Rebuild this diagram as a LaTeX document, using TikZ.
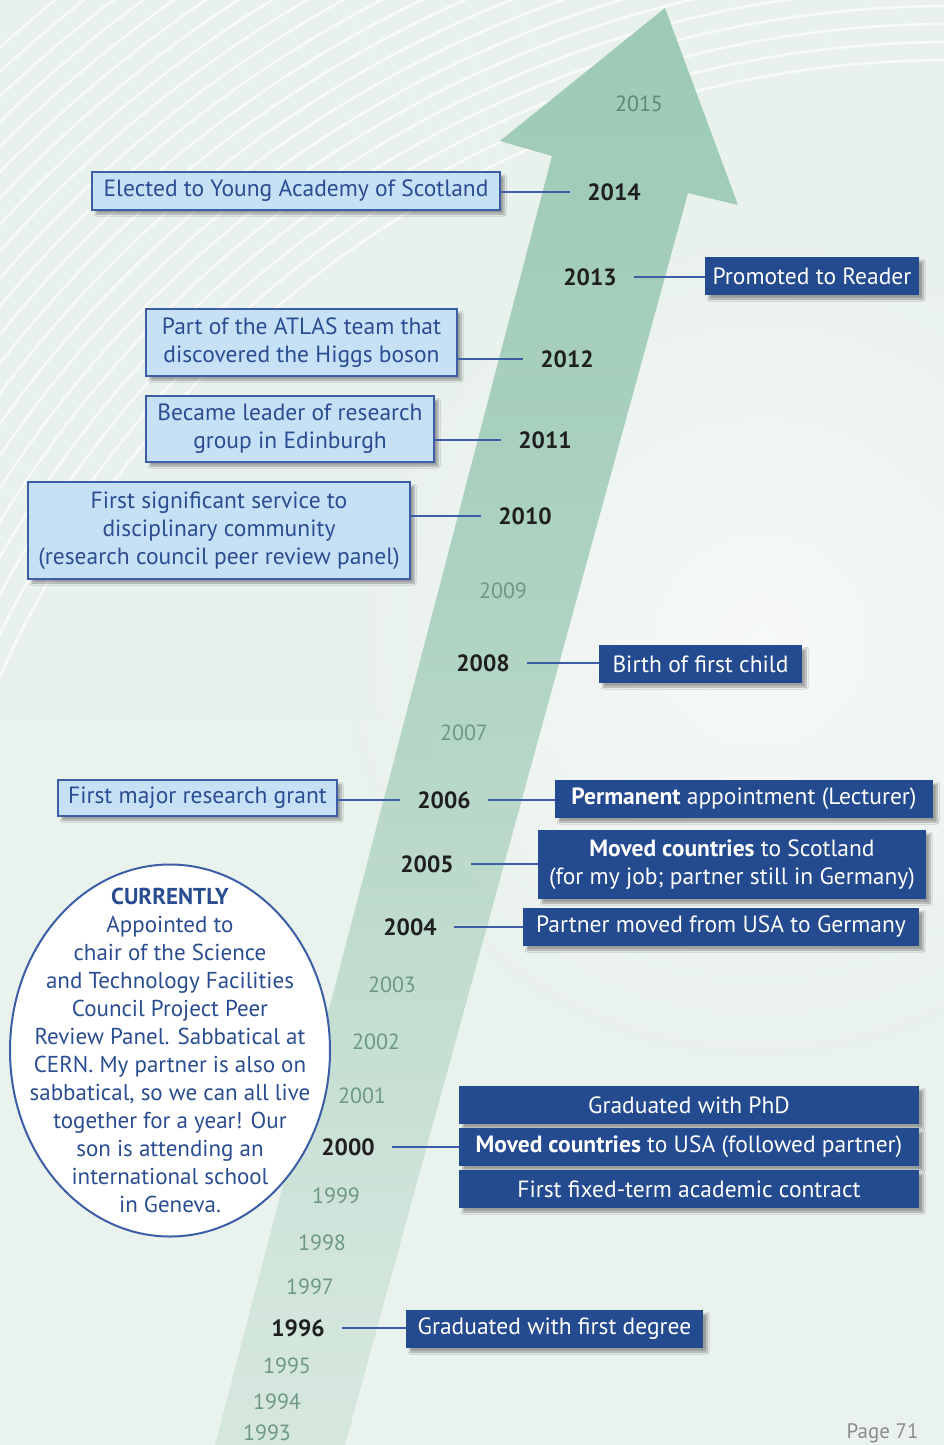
\documentclass[tikz,border=0pt]{standalone}
\usepackage{fontspec}
\setmainfont{PT Sans}
\usetikzlibrary{shapes.geometric,shadows.blur}

\definecolor{boxblue}{RGB}{36,74,143}
\definecolor{paleblue}{RGB}{198,225,246}
\definecolor{edgeblue}{RGB}{59,94,166}
\definecolor{inkblue}{RGB}{42,77,145}
\definecolor{arrowgreen}{RGB}{146,197,174}
\definecolor{shaftgreen}{RGB}{166,207,188}
\definecolor{midgreen}{RGB}{208,228,218}
\definecolor{fadegreen}{RGB}{225,237,231}
\definecolor{yeargrey}{RGB}{110,152,134}
\definecolor{yeardark}{RGB}{92,138,118}
\definecolor{bgtop}{RGB}{233,241,237}
\definecolor{bgbottom}{RGB}{234,242,237}

\pgfdeclareverticalshading{arrowfade}{100bp}{color(0bp)=(fadegreen); color(31bp)=(midgreen);
  color(55bp)=(shaftgreen); color(78bp)=(arrowgreen); color(100bp)=(arrowgreen)}

\tikzset{
  txt/.style={font=\fontsize{23.5}{28}\selectfont},
  boxshadow/.style={blur shadow={shadow xshift=4pt, shadow yshift=-4pt, shadow opacity=35, shadow blur steps=6}},
  lbox/.style={txt, draw=edgeblue, line width=1.2pt, fill=paleblue, text=inkblue,
    align=center, inner sep=0pt, boxshadow},
  dbox/.style={txt, fill=boxblue, text=white, align=center, inner sep=0pt, boxshadow},
  yr/.style={font=\fontsize{23.5}{25}\selectfont\bfseries, text=black!88, inner xsep=17pt},
  yrfaint/.style={font=\fontsize{22}{25}\selectfont, text=yeargrey},
  link/.style={draw=edgeblue, line width=1.2pt},
}

\begin{document}
\begin{tikzpicture}[x=1pt,y=-1pt]
  \useasboundingbox (0,0) rectangle (944,1445);
  % backdrop with a soft light patch on the right
  \shade[top color=bgtop, bottom color=bgbottom] (0,0) rectangle (944,1445);
  \begin{scope}
    \clip (0,0) rectangle (944,1445);
    \shade[inner color=white, outer color=bgtop, opacity=0.6] (760,640) circle[radius=420];
  \end{scope}

  % swirl lines
  \begin{scope}
    \clip (0,0) rectangle (944,1445);
    \foreach \r in {1040,1058,...,1420}
      \draw[white, opacity=0.7, line width=2.5pt] (950,1100) circle[radius=\r];
  \end{scope}

  % rising arrow
  \shade[shading=arrowfade, opacity=0.9]
    (665,8) -- (738,205) -- (688,193) -- (345,1445) -- (215,1445) -- (552,156) -- (500,141) -- cycle;

  % years
  \node[yrfaint, text=yeardark] (y2015) at (639,104) {2015};
  \node[yr] (y2014) at (614,192) {2014};
  \node[yr] (y2013) at (590,277) {2013};
  \node[yr] (y2012) at (567,359) {2012};
  \node[yr] (y2011) at (545,440) {2011};
  \node[yr] (y2010) at (525,516) {2010};
  \node[yrfaint] (y2009) at (503,591) {2009};
  \node[yr] (y2008) at (483,663) {2008};
  \node[yrfaint] (y2007) at (464,733) {2007};
  \node[yr] (y2006) at (444,800) {2006};
  \node[yr] (y2005) at (427,864) {2005};
  \node[yr] (y2004) at (410,927) {2004};
  \node[yrfaint] (y2003) at (392,985) {2003};
  \node[yrfaint] (y2002) at (376,1042) {2002};
  \node[yrfaint] (y2001) at (362,1096) {2001};
  \node[yr] (y2000) at (348,1147) {2000};
  \node[yrfaint] (y1999) at (336,1196) {1999};
  \node[yrfaint] (y1998) at (322,1243) {1998};
  \node[yrfaint] (y1997) at (310,1287) {1997};
  \node[yr] (y1996) at (298,1328) {1996};
  \node[yrfaint] (y1995) at (287,1366) {1995};
  \node[yrfaint] (y1994) at (277,1402) {1994};
  \node[yrfaint] (y1993) at (267,1433) {1993};

  % career boxes (left)
  \node[lbox, minimum width=408pt, minimum height=38pt] (academy) at (296,191) {Elected to Young Academy of Scotland};
  \node[lbox, minimum width=311pt, minimum height=67pt] (atlas) at (301.5,342.5) {Part of the ATLAS team that\\discovered the Higgs boson};
  \node[lbox, minimum width=288pt, minimum height=66pt] (leader) at (290,429) {Became leader of research\\group in Edinburgh};
  \node[lbox, minimum width=382pt, minimum height=97pt] (service) at (219,530.5) {First significant service to\\disciplinary community\\(research council peer review panel)};
  \node[lbox, minimum width=279pt, minimum height=36pt] (grant) at (197.5,798) {First major research grant};

  % life boxes (right)
  \node[dbox, minimum width=214pt, minimum height=38pt] (reader) at (812,276) {Promoted to Reader};
  \node[dbox, minimum width=203pt, minimum height=38pt] (child) at (700.5,664) {Birth of first child};
  \node[dbox, minimum width=378pt, minimum height=38pt] (lecturer) at (744,799) {\textbf{Permanent} appointment (Lecturer)};
  \node[dbox, minimum width=388pt, minimum height=69pt] (scotland) at (732,864.5) {\textbf{Moved countries} to Scotland\\(for my job; partner still in Germany)};
  \node[dbox, minimum width=396pt, minimum height=38pt] (germany) at (721,927) {Partner moved from USA to Germany};
  \node[dbox, minimum width=460pt, minimum height=38pt] (phd) at (689,1105) {Graduated with PhD};
  \node[dbox, minimum width=460pt, minimum height=38pt] (usa) at (689,1147) {\textbf{Moved countries} to USA (followed partner)};
  \node[dbox, minimum width=460pt, minimum height=38pt] (contract) at (689,1189) {First fixed-term academic contract};
  \node[dbox, minimum width=297pt, minimum height=38pt] (degree) at (554.5,1329) {Graduated with first degree};

  % connectors
  \draw[link] (academy.east |- y2014) -- (y2014.west);
  \draw[link] (y2013.east) -- (reader.west |- y2013);
  \draw[link] (atlas.east |- y2012) -- (y2012.west);
  \draw[link] (leader.east |- y2011) -- (y2011.west);
  \draw[link] (service.east |- y2010) -- (y2010.west);
  \draw[link] (y2008.east) -- (child.west |- y2008);
  \draw[link] (grant.east |- y2006) -- (y2006.west);
  \draw[link] (y2006.east) -- (lecturer.west |- y2006);
  \draw[link] (y2005.east) -- (scotland.west |- y2005);
  \draw[link] (y2004.east) -- (germany.west |- y2004);
  \draw[link] (y2000.east) -- (usa.west |- y2000);
  \draw[link] (y1996.east) -- (degree.west |- y1996);

  % current position
  \node[ellipse, draw=edgeblue, line width=2pt, fill=white, inner sep=0pt,
    minimum width=320pt, minimum height=372pt] (now) at (170,1050.5) {};
  \node[font=\fontsize{23}{28}\selectfont, text=inkblue, align=center] (nowtext) at (now.center)
    {\textbf{CURRENTLY}\\Appointed to\\chair of the Science\\and Technology Facilities\\Council Project Peer\\Review Panel. Sabbatical at\\CERN. My partner is also on\\sabbatical, so we can all live\\together for a year! Our\\son is attending an\\international school\\in Geneva.};

  \node[font=\fontsize{21}{25}\selectfont, anchor=east, text=black!45] (page) at (922,1433) {Page 71};
\end{tikzpicture}
\end{document}
